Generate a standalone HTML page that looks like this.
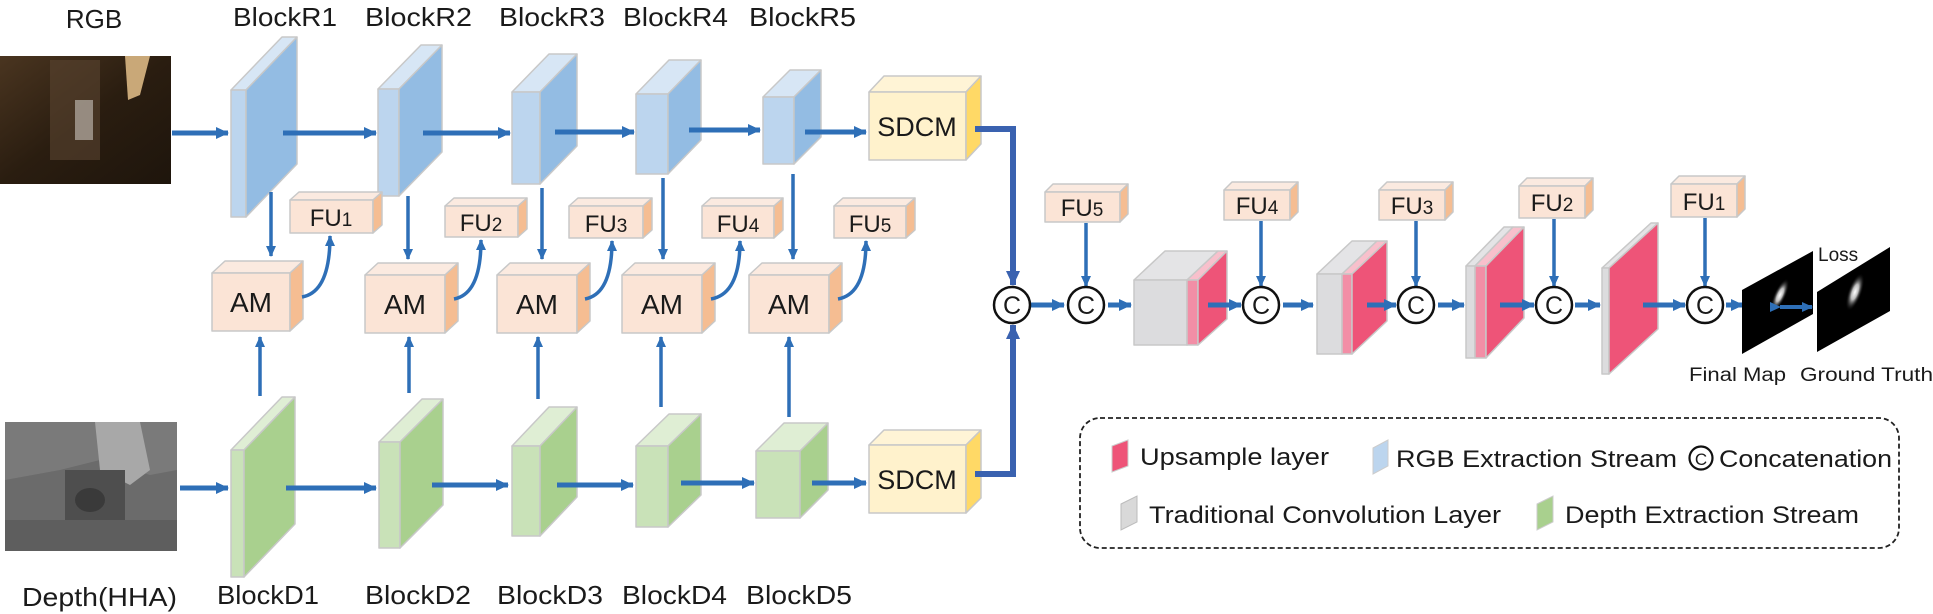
<!DOCTYPE html>
<html><head><meta charset="utf-8"><style>
html,body{margin:0;padding:0;background:#fff}
svg{display:block}
text{font-family:"Liberation Sans",sans-serif;fill:#1a1a1a}
</style></head><body>
<svg width="1933" height="614" viewBox="0 0 1933 614" xmlns="http://www.w3.org/2000/svg">
<defs>
<marker id="ah" markerUnits="userSpaceOnUse" markerWidth="14" markerHeight="14" refX="12" refY="7" orient="auto"><path d="M0,1 L13,7 L0,13 z" fill="#2e6fb7"/></marker>
<marker id="as" markerUnits="userSpaceOnUse" markerWidth="12" markerHeight="12" refX="10" refY="6" orient="auto"><path d="M0,1 L11,6 L0,11 z" fill="#2e6fb7"/></marker>
<marker id="at" markerUnits="userSpaceOnUse" markerWidth="16" markerHeight="16" refX="14" refY="8" orient="auto"><path d="M0,1 L15,8 L0,15 z" fill="#3a62b0"/></marker>
<radialGradient id="blob" cx="50%" cy="50%" r="50%"><stop offset="0" stop-color="#fff"/><stop offset="0.4" stop-color="#bbb"/><stop offset="1" stop-color="#000" stop-opacity="0"/></radialGradient>
<linearGradient id="rgbimg" x1="0" y1="0" x2="1" y2="1"><stop offset="0" stop-color="#4a3520"/><stop offset="0.5" stop-color="#2a1d10"/><stop offset="1" stop-color="#1e150c"/></linearGradient>
</defs>

<!-- images -->
<rect x="0" y="56" width="171" height="128" fill="url(#rgbimg)"/>
<rect x="50" y="60" width="50" height="100" fill="#5a4430" opacity="0.6"/>
<polygon points="125,56 150,56 140,95 128,100" fill="#c9a878"/>
<rect x="75" y="100" width="18" height="40" fill="#b8b0a8" opacity="0.7"/>
<rect x="5" y="422" width="172" height="129" fill="#6b6b6b"/>
<polygon points="5,422 177,422 177,470 150,475 100,460 60,470 5,480" fill="#7a7a7a"/>
<polygon points="95,422 140,422 150,470 130,485 100,470" fill="#a8a8a8"/>
<rect x="65" y="470" width="60" height="70" fill="#4e4e4e"/>
<ellipse cx="90" cy="500" rx="15" ry="12" fill="#3a3a3a"/>
<rect x="5" y="520" width="172" height="31" fill="#5e5e5e"/>

<!-- labels top/bottom -->
<text x="94" y="28" font-size="26" text-anchor="middle">RGB</text>
<text x="233" y="26" font-size="26" textLength="104" lengthAdjust="spacingAndGlyphs">BlockR1</text>
<text x="365" y="26" font-size="26" textLength="107" lengthAdjust="spacingAndGlyphs">BlockR2</text>
<text x="499" y="26" font-size="26" textLength="106" lengthAdjust="spacingAndGlyphs">BlockR3</text>
<text x="623" y="26" font-size="26" textLength="105" lengthAdjust="spacingAndGlyphs">BlockR4</text>
<text x="749" y="26" font-size="26" textLength="107" lengthAdjust="spacingAndGlyphs">BlockR5</text>
<text x="22" y="606" font-size="26" textLength="155" lengthAdjust="spacingAndGlyphs">Depth(HHA)</text>
<text x="217" y="604" font-size="26" textLength="102" lengthAdjust="spacingAndGlyphs">BlockD1</text>
<text x="365" y="604" font-size="26" textLength="106" lengthAdjust="spacingAndGlyphs">BlockD2</text>
<text x="497" y="604" font-size="26" textLength="106" lengthAdjust="spacingAndGlyphs">BlockD3</text>
<text x="622" y="604" font-size="26" textLength="105" lengthAdjust="spacingAndGlyphs">BlockD4</text>
<text x="746" y="604" font-size="26" textLength="106" lengthAdjust="spacingAndGlyphs">BlockD5</text>

<!-- R blocks -->
<g stroke="#c8c8c8" stroke-width="1.5" stroke-linejoin="round">
<g fill="#d7e6f5"><polygon points="231,90 282,37 297,37 246,90"/><polygon points="378,89 421,45 442,45 399,89"/><polygon points="512,92 549,54 577,54 540,92"/><polygon points="636,94 669,60 701,60 668,94"/><polygon points="763,97 790,70 821,70 794,97"/></g>
<g fill="#bcd5ee"><rect x="231" y="90" width="15" height="127"/><rect x="378" y="89" width="21" height="107"/><rect x="512" y="92" width="28" height="92"/><rect x="636" y="94" width="32" height="80"/><rect x="763" y="97" width="31" height="67"/></g>
<g fill="#93bce3"><polygon points="246,90 297,37 297,164 246,217"/><polygon points="399,89 442,45 442,152 399,196"/><polygon points="540,92 577,54 577,146 540,184"/><polygon points="668,94 701,60 701,140 668,174"/><polygon points="794,97 821,70 821,137 794,164"/></g>
<!-- D blocks -->
<g fill="#dfeed4"><polygon points="231,450 282,397 295,397 244,450"/><polygon points="379,442 422,399 443,399 400,442"/><polygon points="512,446 549,407 577,407 540,446"/><polygon points="636,446 669,414 701,414 668,446"/><polygon points="756,451 784,423 828,423 800,451"/></g>
<g fill="#c9e2b8"><rect x="231" y="450" width="13" height="127"/><rect x="379" y="442" width="21" height="106"/><rect x="512" y="446" width="28" height="90"/><rect x="636" y="446" width="32" height="81"/><rect x="756" y="451" width="44" height="67"/></g>
<g fill="#a9d08e"><polygon points="244,450 295,397 295,524 244,577"/><polygon points="400,442 443,399 443,505 400,548"/><polygon points="540,446 577,407 577,497 540,536"/><polygon points="668,446 701,414 701,495 668,527"/><polygon points="800,451 828,423 828,490 800,518"/></g>
<!-- SDCM -->
<g><polygon points="869,92 884,76 981,76 966,92" fill="#fff4d6"/><rect x="869" y="92" width="97" height="68" fill="#fff2cc"/><polygon points="966,92 981,76 981,144 966,160" fill="#ffd966"/>
<polygon points="869,445 884,430 981,430 966,445" fill="#fff4d6"/><rect x="869" y="445" width="97" height="68" fill="#fff2cc"/><polygon points="966,445 981,430 981,498 966,513" fill="#ffd966"/></g>
<!-- AM boxes -->
<g>
<polygon points="212,273 225,261 303,261 290,273" fill="#fbeae0"/><rect x="212" y="273" width="78" height="58" fill="#fbe4d6"/><polygon points="290,273 303,261 303,319 290,331" fill="#f5bd92"/>
<polygon points="365,275 378,263 458,263 445,275" fill="#fbeae0"/><rect x="365" y="275" width="80" height="58" fill="#fbe4d6"/><polygon points="445,275 458,263 458,321 445,333" fill="#f5bd92"/>
<polygon points="497,275 510,263 590,263 577,275" fill="#fbeae0"/><rect x="497" y="275" width="80" height="58" fill="#fbe4d6"/><polygon points="577,275 590,263 590,321 577,333" fill="#f5bd92"/>
<polygon points="622,275 635,263 715,263 702,275" fill="#fbeae0"/><rect x="622" y="275" width="80" height="58" fill="#fbe4d6"/><polygon points="702,275 715,263 715,321 702,333" fill="#f5bd92"/>
<polygon points="749,275 762,263 842,263 829,275" fill="#fbeae0"/><rect x="749" y="275" width="80" height="58" fill="#fbe4d6"/><polygon points="829,275 842,263 842,321 829,333" fill="#f5bd92"/>
</g>
<!-- FU upper -->
<g>
<polygon points="290,200 299,192 382,192 373,200" fill="#fbeae0"/><rect x="290" y="200" width="83" height="33" fill="#fbe4d6"/><polygon points="373,200 382,192 382,225 373,233" fill="#f5bd92"/>
<polygon points="445,206 454,198 527,198 518,206" fill="#fbeae0"/><rect x="445" y="206" width="73" height="31" fill="#fbe4d6"/><polygon points="518,206 527,198 527,229 518,237" fill="#f5bd92"/>
<polygon points="569,206 578,198 652,198 643,206" fill="#fbeae0"/><rect x="569" y="206" width="74" height="32" fill="#fbe4d6"/><polygon points="643,206 652,198 652,230 643,238" fill="#f5bd92"/>
<polygon points="702,206 711,198 783,198 774,206" fill="#fbeae0"/><rect x="702" y="206" width="72" height="32" fill="#fbe4d6"/><polygon points="774,206 783,198 783,230 774,238" fill="#f5bd92"/>
<polygon points="834,206 843,198 915,198 906,206" fill="#fbeae0"/><rect x="834" y="206" width="72" height="32" fill="#fbe4d6"/><polygon points="906,206 915,198 915,230 906,238" fill="#f5bd92"/>
</g>
<!-- FU right -->
<g>
<polygon points="1045,192 1053,184 1128,184 1120,192" fill="#fbeae0"/><rect x="1045" y="192" width="75" height="30" fill="#fbe4d6"/><polygon points="1120,192 1128,184 1128,214 1120,222" fill="#f5bd92"/>
<polygon points="1224,190 1232,182 1298,182 1290,190" fill="#fbeae0"/><rect x="1224" y="190" width="66" height="30" fill="#fbe4d6"/><polygon points="1290,190 1298,182 1298,212 1290,220" fill="#f5bd92"/>
<polygon points="1379,190 1387,182 1453,182 1445,190" fill="#fbeae0"/><rect x="1379" y="190" width="66" height="30" fill="#fbe4d6"/><polygon points="1445,190 1453,182 1453,212 1445,220" fill="#f5bd92"/>
<polygon points="1519,186 1527,178 1593,178 1585,186" fill="#fbeae0"/><rect x="1519" y="186" width="66" height="32" fill="#fbe4d6"/><polygon points="1585,186 1593,178 1593,210 1585,218" fill="#f5bd92"/>
<polygon points="1671,184 1679,176 1745,176 1737,184" fill="#fbeae0"/><rect x="1671" y="184" width="66" height="33" fill="#fbe4d6"/><polygon points="1737,184 1745,176 1745,209 1737,217" fill="#f5bd92"/>
</g>
<!-- decoder blocks -->
<polygon points="1134,280 1165,251 1218,251 1187,280" fill="#e4e4e6"/><rect x="1134" y="280" width="53" height="65" fill="#dcdcde"/>
<polygon points="1187,280 1218,251 1227,251 1198,280" fill="#f8c0cc"/><rect x="1187" y="280" width="11" height="65" fill="#f28ea6"/>
<polygon points="1198,280 1227,251 1227,319 1198,345" fill="#ee5478"/>
<polygon points="1317,274 1352,241 1377,241 1342,274" fill="#e4e4e6"/><rect x="1317" y="274" width="25" height="80" fill="#dcdcde"/>
<polygon points="1342,274 1377,241 1387,241 1352,274" fill="#f8c0cc"/><rect x="1342" y="274" width="10" height="80" fill="#f28ea6"/>
<polygon points="1352,274 1387,241 1387,321 1352,354" fill="#ee5478"/>
<polygon points="1466,266 1504,227 1513,227 1475,266" fill="#e4e4e6"/><rect x="1466" y="266" width="9" height="92" fill="#dcdcde"/>
<polygon points="1475,266 1513,227 1524,227 1486,266" fill="#f8c0cc"/><rect x="1475" y="266" width="11" height="92" fill="#f28ea6"/>
<polygon points="1486,266 1524,227 1524,318 1486,358" fill="#ee5478"/>
<polygon points="1602,268 1651,223 1658,223 1609,268" fill="#e4e4e6"/><rect x="1602" y="268" width="7" height="106" fill="#dcdcde"/>
<polygon points="1609,268 1658,223 1658,329 1609,374" fill="#ee5478"/>
</g>

<!-- box texts -->
<g font-size="27">
<text x="917" y="136" text-anchor="middle">SDCM</text>
<text x="917" y="489" text-anchor="middle">SDCM</text>
</g>
<g font-size="28" text-anchor="middle">
<text x="251" y="312">AM</text><text x="405" y="314">AM</text><text x="537" y="314">AM</text><text x="662" y="314">AM</text><text x="789" y="314">AM</text>
</g>
<g font-size="24" text-anchor="middle">
<text x="331" y="226">FU<tspan font-size="19">1</tspan></text>
<text x="481" y="231">FU<tspan font-size="19">2</tspan></text>
<text x="606" y="232">FU<tspan font-size="19">3</tspan></text>
<text x="738" y="232">FU<tspan font-size="19">4</tspan></text>
<text x="870" y="232">FU<tspan font-size="19">5</tspan></text>
<text x="1082" y="216">FU<tspan font-size="19">5</tspan></text>
<text x="1257" y="214">FU<tspan font-size="19">4</tspan></text>
<text x="1412" y="214">FU<tspan font-size="19">3</tspan></text>
<text x="1552" y="211">FU<tspan font-size="19">2</tspan></text>
<text x="1704" y="210">FU<tspan font-size="19">1</tspan></text>
</g>

<!-- arrows -->
<g stroke="#2e6fb7" stroke-width="5" fill="none" marker-end="url(#ah)">
<line x1="172" y1="133" x2="228" y2="133"/><line x1="283" y1="133" x2="376" y2="133"/><line x1="423" y1="133" x2="510" y2="133"/><line x1="555" y1="132" x2="634" y2="132"/><line x1="689" y1="130" x2="760" y2="130"/><line x1="805" y1="132" x2="866" y2="132"/>
<line x1="180" y1="488" x2="228" y2="488"/><line x1="286" y1="488" x2="376" y2="488"/><line x1="432" y1="485" x2="508" y2="485"/><line x1="557" y1="485" x2="633" y2="485"/><line x1="681" y1="483" x2="754" y2="483"/><line x1="812" y1="483" x2="866" y2="483"/>
<line x1="1031" y1="305" x2="1064" y2="305"/><line x1="1108" y1="305" x2="1131" y2="305"/><line x1="1208" y1="305" x2="1241" y2="305"/><line x1="1283" y1="305" x2="1313" y2="305"/><line x1="1367" y1="305" x2="1396" y2="305"/><line x1="1438" y1="305" x2="1464" y2="305"/><line x1="1500" y1="305" x2="1534" y2="305"/><line x1="1575" y1="305" x2="1600" y2="305"/><line x1="1643" y1="305" x2="1685" y2="305"/><line x1="1726" y1="305" x2="1743" y2="305"/>
</g>
<g stroke="#2e6fb7" stroke-width="3.5" fill="none" marker-end="url(#as)">
<line x1="271" y1="192" x2="271" y2="256"/><line x1="408" y1="196" x2="408" y2="259"/><line x1="542" y1="188" x2="542" y2="259"/><line x1="663" y1="178" x2="663" y2="259"/><line x1="793" y1="174" x2="793" y2="259"/>
<line x1="260" y1="396" x2="260" y2="337"/><line x1="409" y1="393" x2="409" y2="337"/><line x1="538" y1="399" x2="538" y2="337"/><line x1="661" y1="407" x2="661" y2="337"/><line x1="789" y1="417" x2="789" y2="337"/>
<path d="M302,297 Q330,292 330,236"/><path d="M454,299 Q481,294 481,240"/><path d="M585,299 Q612,294 612,241"/><path d="M711,299 Q740,294 740,241"/><path d="M838,299 Q866,294 866,241"/>
<line x1="1086" y1="223" x2="1086" y2="286"/><line x1="1261" y1="221" x2="1261" y2="286"/><line x1="1416" y1="221" x2="1416" y2="286"/><line x1="1554" y1="219" x2="1554" y2="286"/><line x1="1705" y1="218" x2="1705" y2="286"/>
</g>
<g stroke="#3a62b0" stroke-width="6" fill="none" marker-end="url(#at)">
<polyline points="975,129 1013,129 1013,285"/>
<polyline points="975,474 1013,474 1013,325"/>
</g>

<!-- concat circles -->
<g fill="#fff" stroke="#111" stroke-width="2.5">
<circle cx="1012" cy="305" r="18"/><circle cx="1086" cy="305" r="18"/><circle cx="1261" cy="305" r="18"/><circle cx="1416" cy="305" r="18"/><circle cx="1554" cy="305" r="18"/><circle cx="1705" cy="305" r="18"/>
</g>
<g font-size="25" text-anchor="middle">
<text x="1012" y="314">C</text><text x="1086" y="314">C</text><text x="1261" y="314">C</text><text x="1416" y="314">C</text><text x="1554" y="314">C</text><text x="1705" y="314">C</text>
</g>

<!-- maps -->
<polygon points="1742,290 1813,251 1813,314 1742,354" fill="#000"/>
<ellipse cx="1780" cy="295" rx="6" ry="18" transform="rotate(25 1780 295)" fill="url(#blob)"/>
<polygon points="1817,292 1890,247 1890,311 1817,352" fill="#000"/>
<ellipse cx="1855" cy="292" rx="7" ry="20" transform="rotate(20 1855 292)" fill="url(#blob)"/>
<line x1="1780" y1="307" x2="1812" y2="307" stroke="#2e6fb7" stroke-width="4" marker-end="url(#as)" marker-start="url(#as)"/>
<text x="1818" y="261" font-size="19">Loss</text>
<text x="1689" y="381" font-size="19" textLength="97" lengthAdjust="spacingAndGlyphs">Final Map</text>
<text x="1800" y="381" font-size="19" textLength="133" lengthAdjust="spacingAndGlyphs">Ground Truth</text>

<!-- legend -->
<rect x="1080" y="418" width="819" height="130" rx="20" fill="none" stroke="#222" stroke-width="1.8" stroke-dasharray="5,3"/>
<polygon points="1112,446 1128,440 1128,466 1112,472" fill="#ee5478" stroke="#ccc"/>
<text x="1140" y="465" font-size="24" textLength="189" lengthAdjust="spacingAndGlyphs">Upsample layer</text>
<polygon points="1373,448 1388,440 1388,466 1373,474" fill="#bcd5ee" stroke="#ccc"/>
<text x="1396" y="467" font-size="24" textLength="281" lengthAdjust="spacingAndGlyphs">RGB Extraction Stream</text>
<circle cx="1701" cy="458" r="11.5" fill="none" stroke="#111" stroke-width="2.2"/>
<text x="1701" y="465" font-size="17" text-anchor="middle">C</text>
<text x="1719" y="467" font-size="24" textLength="173" lengthAdjust="spacingAndGlyphs">Concatenation</text>
<polygon points="1121,504 1137,496 1137,522 1121,530" fill="#d9d9d9" stroke="#bbb"/>
<text x="1149" y="523" font-size="24" textLength="352" lengthAdjust="spacingAndGlyphs">Traditional Convolution Layer</text>
<polygon points="1537,504 1553,496 1553,522 1537,530" fill="#a9d08e" stroke="#ccc"/>
<text x="1565" y="523" font-size="24" textLength="294" lengthAdjust="spacingAndGlyphs">Depth Extraction Stream</text>
</svg>
</body></html>
